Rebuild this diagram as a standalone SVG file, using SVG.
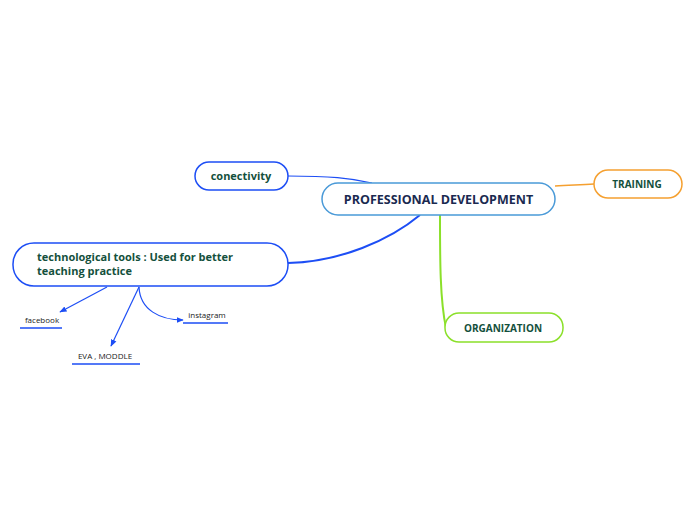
<svg xmlns="http://www.w3.org/2000/svg" width="696" height="520" viewBox="0 0 696 520">
<style>
.t{font-family:"Open Sans","Noto Sans",sans-serif;font-weight:bold;fill:#14503c;font-size:11px}
.s{font-family:"Open Sans","Noto Sans",sans-serif;fill:#222;font-size:8px}
.b{fill:#fff;stroke-width:1.5}
.c{fill:none;stroke:#1d4ef5;stroke-width:1.2}
</style>
<defs><marker id="a" viewBox="0 0 10 10" refX="9" refY="5" markerWidth="6" markerHeight="6" orient="auto"><path d="M0,1L10,5L0,9z" fill="#1d4ef5"/></marker></defs>
<g id="connectors">
<path class="c" d="M288,176C330,176 350,178 372,183"/>
<path d="M420,215C390,240 340,262 288,263" fill="none" stroke="#1d4ef5" stroke-width="2"/>
<path d="M555,186C570,185 580,185 594,184" fill="none" stroke="#f5a030" stroke-width="1.5"/>
<path d="M440,215C440,260 440,300 446,328" fill="none" stroke="#8be02a" stroke-width="2"/>
<path class="c" d="M107,287L60,312" marker-end="url(#a)"/>
<path class="c" d="M139,287L111,346" marker-end="url(#a)"/>
<path class="c" d="M139,287C140,310 160,320 183,320" marker-end="url(#a)"/>
<path d="M20,328H62M72,364H140M183,323H228" stroke="#1d4ef5" stroke-width="1.5"/>
</g>
<g id="n-root"><rect class="b" x="322" y="183" width="233" height="32" rx="16" stroke="#4a9ad8"/><text class="t" x="438.5" y="204" text-anchor="middle" fill="#1a2a50" style="font-size:12.5px;fill:#1a2a50">PROFESSIONAL DEVELOPMENT</text></g>
<g id="n-conectivity"><rect class="b" x="195" y="162" width="93" height="28" rx="14" stroke="#1d4ef5"/><text class="t" x="241" y="180" text-anchor="middle">conectivity</text></g>
<g id="n-tools"><rect class="b" x="13" y="243" width="275" height="43" rx="21" stroke="#1d4ef5"/><text class="t" x="37" y="261">technological tools : Used for  better</text><text class="t" x="37" y="275">teaching practice</text></g>
<g id="n-training"><rect class="b" x="594" y="170" width="88" height="28" rx="14" stroke="#f5a030"/><text class="t" x="637" y="188" text-anchor="middle" style="font-size:10px">TRAINING</text></g>
<g id="n-org"><rect class="b" x="445" y="313" width="118" height="29" rx="14" stroke="#8be02a"/><text class="t" x="503" y="332" text-anchor="middle" style="font-size:10px">ORGANIZATION</text></g>
<g id="n-facebook"><text class="s" x="42" y="323" text-anchor="middle">facebook</text></g>
<g id="n-eva"><text class="s" x="105" y="359" text-anchor="middle">EVA , MODDLE</text></g>
<g id="n-instagram"><text class="s" x="207" y="318" text-anchor="middle">instagram</text></g>
</svg>
